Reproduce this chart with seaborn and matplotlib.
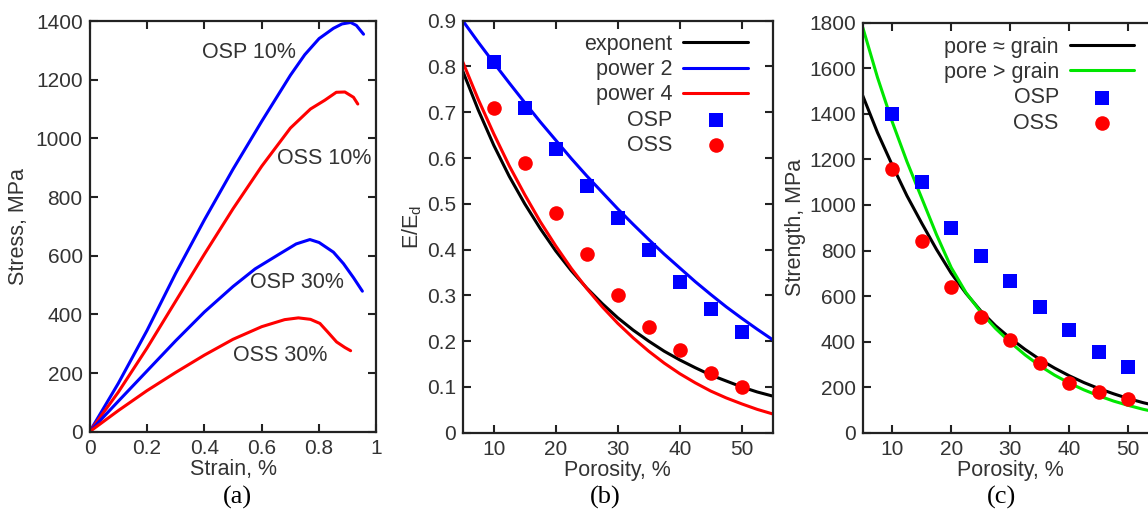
'''
    plot.py
    Stress-strain curves, elastic modulus and strength vs porosity (three panels).
'''
import pandas as pd
import seaborn as sns
import matplotlib
matplotlib.use('Agg')
import matplotlib.pyplot as plt

#################################################################################
# Data
#################################################################################

# (a) stress-strain curves
osp10_strain = [0, 0.1, 0.2, 0.3, 0.4, 0.5, 0.6, 0.7, 0.75, 0.8, 0.85, 0.88, 0.91, 0.93, 0.955]
osp10_stress = [0, 165, 345, 540, 722, 895, 1058, 1215, 1285, 1340, 1375, 1390, 1395, 1385, 1355]
oss10_strain = [0, 0.1, 0.2, 0.3, 0.4, 0.5, 0.6, 0.7, 0.77, 0.82, 0.86, 0.89, 0.92, 0.935]
oss10_stress = [0, 135, 285, 445, 605, 760, 905, 1035, 1100, 1130, 1157, 1158, 1140, 1117]
osp30_strain = [0, 0.1, 0.2, 0.3, 0.4, 0.5, 0.577, 0.664, 0.72, 0.768, 0.8, 0.85, 0.885, 0.92, 0.951]
osp30_stress = [0, 104, 207, 310, 408, 495, 555, 607, 640, 655, 645, 612, 573, 525, 479]
oss30_strain = [0, 0.1, 0.2, 0.3, 0.4, 0.5, 0.6, 0.68, 0.728, 0.77, 0.803, 0.83, 0.861, 0.89, 0.91]
oss30_stress = [0, 72, 140, 202, 261, 315, 358, 382, 388, 383, 369, 340, 306, 287, 276]

# (b) E/Ed vs porosity
curve_porosity = [5, 7.5, 10, 12.5, 15, 17.5, 20, 22.5, 25, 27.5, 30,
                  32.5, 35, 37.5, 40, 42.5, 45, 47.5, 50, 52.5, 55]
e_exponent = [0.790, 0.705, 0.628, 0.560, 0.500, 0.446, 0.397, 0.354, 0.316, 0.282, 0.251,
              0.224, 0.200, 0.178, 0.159, 0.142, 0.126, 0.113, 0.100, 0.089, 0.080]
e_power2 = [0.900, 0.853, 0.808, 0.764, 0.721, 0.679, 0.639, 0.599, 0.561, 0.525, 0.489,
            0.455, 0.422, 0.390, 0.360, 0.330, 0.302, 0.275, 0.250, 0.226, 0.203]
e_power4 = [0.810, 0.728, 0.653, 0.583, 0.520, 0.461, 0.408, 0.359, 0.315, 0.275, 0.239,
            0.207, 0.178, 0.152, 0.129, 0.109, 0.091, 0.076, 0.063, 0.051, 0.041]

sample_porosity = [10, 15, 20, 25, 30, 35, 40, 45, 50]
e_osp = [0.81, 0.71, 0.62, 0.54, 0.47, 0.40, 0.33, 0.27, 0.22]
e_oss = [0.71, 0.59, 0.48, 0.39, 0.30, 0.23, 0.18, 0.13, 0.10]

# (c) strength vs porosity
s_pore_eq = [1480, 1318, 1175, 1040, 920, 805, 700, 612, 535, 470, 415,
             366, 322, 284, 250, 220, 194, 171, 150, 132, 117]
s_pore_gt = [1780, 1560, 1365, 1190, 1030, 870, 725, 615, 530, 458, 397,
             342, 294, 253, 218, 188, 162, 139, 120, 103, 89]
s_osp = [1400, 1100, 900, 775, 665, 550, 450, 355, 290]
s_oss = [1160, 840, 640, 510, 405, 305, 220, 178, 150]

#################################################################################
# Style
#################################################################################

sns.set_style('ticks')
plt.rcParams['font.family'] = ['Liberation Sans', 'DejaVu Sans']
plt.rcParams['mathtext.default'] = 'regular'

TXT = '#333333'
FS = 15.5
TICK_FS = 15
LW = 2.2
BLUE, RED, GREEN, BLACK = '#0000ff', '#ff0000', '#00e600', '#000000'


def style_axes(ax):
    for s in ax.spines.values():
        s.set_linewidth(1.6)
        s.set_color('#222222')
    ax.tick_params(direction='in', top=True, right=True, length=6, width=1.5,
                   labelsize=TICK_FS, labelcolor=TXT, pad=5, color='#222222')


def right_align_legend(lg):
    # gnuplot-like legend: labels right aligned, samples on the right
    for col in lg._legend_handle_box.get_children():
        col.align = 'right'


fig = plt.figure(figsize=(11.48, 5.11), dpi=100)

#################################################################################
# (a) stress-strain
#################################################################################
ax = fig.add_axes([0.0781, 0.1552, 0.2498, 0.8037])
curves = [(osp10_strain, osp10_stress, BLUE), (oss10_strain, oss10_stress, RED),
          (osp30_strain, osp30_stress, BLUE), (oss30_strain, oss30_stress, RED)]
for xs, ys, c in curves:
    df = pd.DataFrame({'strain': xs, 'stress': ys})
    sns.lineplot(data=df, x='strain', y='stress', ax=ax, color=c, lw=LW,
                 estimator=None, sort=False)
ax.set_xlim(0, 1)
ax.set_ylim(0, 1400)
ax.set_xticks([0, 0.2, 0.4, 0.6, 0.8, 1])
ax.set_xticklabels(['0', '0.2', '0.4', '0.6', '0.8', '1'])
ax.set_yticks(range(0, 1401, 200))
style_axes(ax)
ax.set_xlabel('Strain, %', fontsize=FS, color=TXT, labelpad=1)
ax.set_ylabel('Stress, MPa', fontsize=FS, color=TXT, labelpad=5)
for txt, x, y in [('OSP 10%', 0.392, 1291), ('OSS 10%', 0.653, 931),
                  ('OSP 30%', 0.559, 509), ('OSS 30%', 0.50, 261)]:
    ax.text(x, y, txt, fontsize=FS, color=TXT, ha='left', va='center')

#################################################################################
# (b) E/Ed
#################################################################################
ax = fig.add_axes([0.4031, 0.1532, 0.2700, 0.8063])
df = pd.DataFrame({'porosity': curve_porosity, 'exponent': e_exponent,
                   'power 2': e_power2, 'power 4': e_power4})
handles = []
for name, c in [('exponent', BLACK), ('power 2', BLUE), ('power 4', RED)]:
    sns.lineplot(data=df, x='porosity', y=name, ax=ax, color=c, lw=LW)
    handles.append(ax.lines[-1])
pts = pd.DataFrame({'porosity': sample_porosity, 'OSP': e_osp, 'OSS': e_oss})
sns.scatterplot(data=pts, x='porosity', y='OSP', ax=ax, color=BLUE, marker='s',
                s=95, linewidth=0, zorder=3)
handles.append(ax.collections[-1])
sns.scatterplot(data=pts, x='porosity', y='OSS', ax=ax, color=RED, marker='o',
                s=110, linewidth=0, zorder=3)
handles.append(ax.collections[-1])
ax.set_xlim(5, 55)
ax.set_ylim(0, 0.9)
ax.set_xticks([10, 20, 30, 40, 50])
ax.set_yticks([i / 10 for i in range(10)])
ax.set_yticklabels(['0'] + ['0.%d' % i for i in range(1, 10)])
style_axes(ax)
ax.set_xlabel('Porosity, %', fontsize=FS, color=TXT, labelpad=1)
ax.set_ylabel('E/E$_\\mathregular{d}$', fontsize=FS, color=TXT, labelpad=2)
lg = ax.legend(handles, ['exponent', 'power 2', 'power 4', 'OSP', 'OSS'],
               loc='upper right', bbox_to_anchor=(0.92, 0.968), frameon=False,
               markerfirst=False, fontsize=FS, handlelength=3.0, handletextpad=0.5,
               labelspacing=0.2, borderpad=0, borderaxespad=0)
for t in lg.get_texts():
    t.set_color(TXT)
right_align_legend(lg)

#################################################################################
# (c) strength
#################################################################################
ax = fig.add_axes([0.7515, 0.1532, 0.2570, 0.8023])
df = pd.DataFrame({'porosity': curve_porosity, 'eq': s_pore_eq, 'gt': s_pore_gt})
handles = []
for name, c in [('eq', BLACK), ('gt', GREEN)]:
    sns.lineplot(data=df, x='porosity', y=name, ax=ax, color=c, lw=LW)
    handles.append(ax.lines[-1])
pts = pd.DataFrame({'porosity': sample_porosity, 'OSP': s_osp, 'OSS': s_oss})
sns.scatterplot(data=pts, x='porosity', y='OSP', ax=ax, color=BLUE, marker='s',
                s=95, linewidth=0, zorder=3)
handles.append(ax.collections[-1])
sns.scatterplot(data=pts, x='porosity', y='OSS', ax=ax, color=RED, marker='o',
                s=110, linewidth=0, zorder=3)
handles.append(ax.collections[-1])
ax.set_xlim(5, 55)
ax.set_ylim(0, 1800)
ax.set_xticks([10, 20, 30, 40, 50])
ax.set_yticks(range(0, 1801, 200))
style_axes(ax)
ax.set_xlabel('Porosity, %', fontsize=FS, color=TXT, labelpad=1)
ax.set_ylabel('Strength, MPa', fontsize=FS, color=TXT, labelpad=2)
lg = ax.legend(handles, ['pore \u2248 grain', 'pore > grain', 'OSP', 'OSS'],
               loc='upper right', bbox_to_anchor=(0.92, 0.966), frameon=False,
               markerfirst=False, fontsize=FS, handlelength=3.0, handletextpad=0.5,
               labelspacing=0.2, borderpad=0, borderaxespad=0)
for t in lg.get_texts():
    t.set_color(TXT)
right_align_legend(lg)

# panel letters
for txt, x in [('(a)', 237), ('(b)', 605), ('(c)', 1002)]:
    fig.text(x / 1148, 1 - 497 / 511, txt, ha='center', va='center',
             fontsize=19, family=['Liberation Serif', 'DejaVu Serif'], color='black')

plt.savefig('out.png', dpi=100)
